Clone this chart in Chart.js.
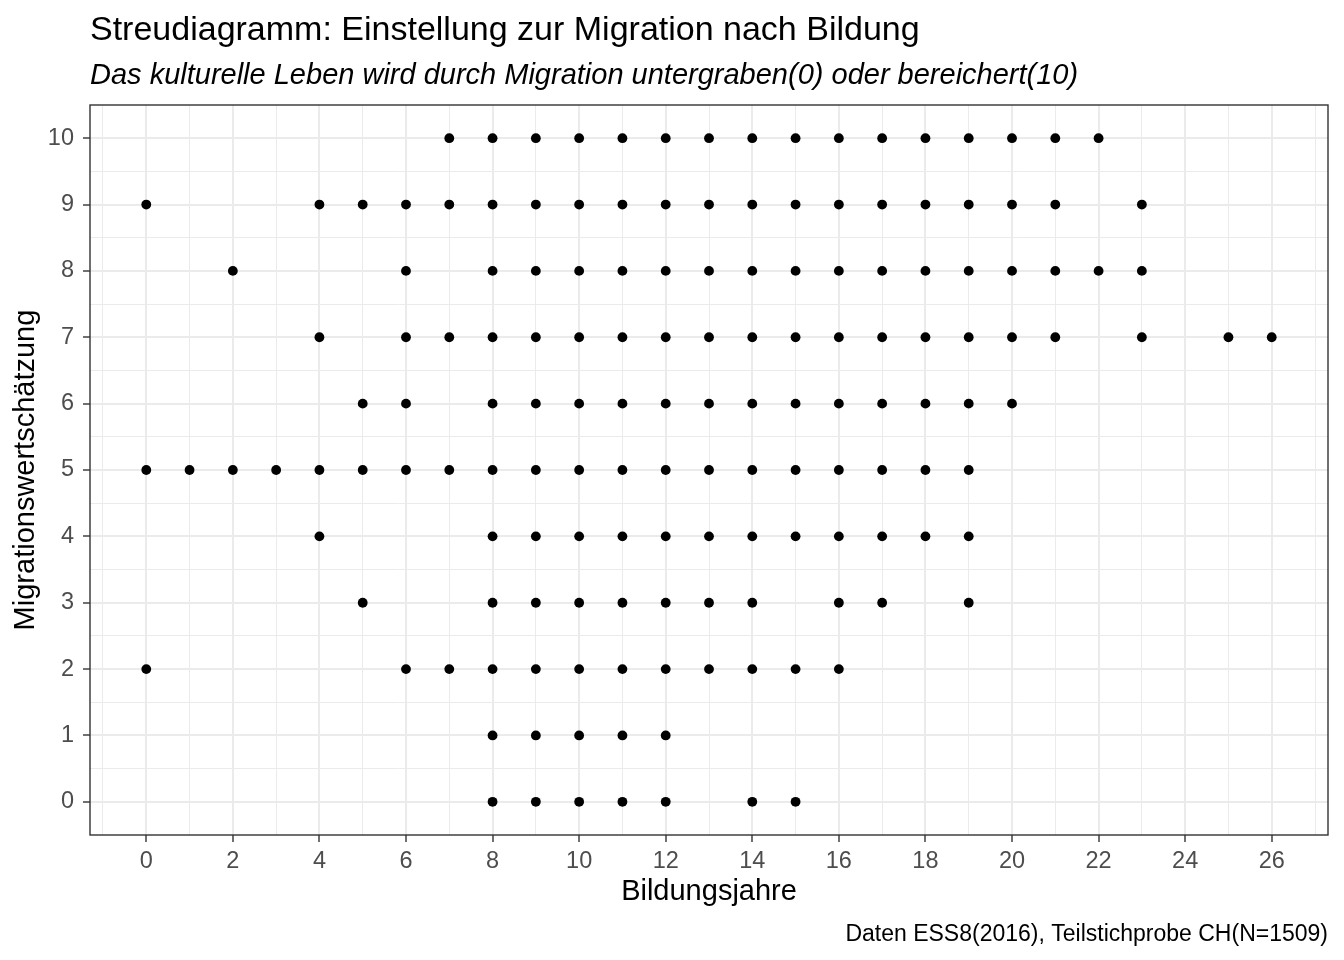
<!DOCTYPE html>
<html>
<head>
<meta charset="utf-8">
<script src="https://cdn.jsdelivr.net/npm/chart.js@4"></script>
<style>
  html, body { margin: 0; padding: 0; background: #ffffff; }
  #wrap { width: 1344px; height: 960px; }
</style>
</head>
<body>
<div id="wrap"><canvas id="c" width="1344" height="960"></canvas></div>
<script>
// ---- Data ----
const titleText = "Streudiagramm: Einstellung zur Migration nach Bildung";
const subtitleText = "Das kulturelle Leben wird durch Migration untergraben(0) oder bereichert(10)";
const captionText = "Daten ESS8(2016), Teilstichprobe CH(N=1509)";
const xAxisTitle = "Bildungsjahre";
const yAxisTitle = "Migrationswertschätzung";

// Migrationswertschätzung levels and the Bildungsjahre values observed at each level
const yLevels = [10, 9, 8, 7, 6, 5, 4, 3, 2, 1, 0];
const xAt10 = [7, 8, 9, 10, 11, 12, 13, 14, 15, 16, 17, 18, 19, 20, 21, 22];
const xAt9  = [0, 4, 5, 6, 7, 8, 9, 10, 11, 12, 13, 14, 15, 16, 17, 18, 19, 20, 21, 23];
const xAt8  = [2, 6, 8, 9, 10, 11, 12, 13, 14, 15, 16, 17, 18, 19, 20, 21, 22, 23];
const xAt7  = [4, 6, 7, 8, 9, 10, 11, 12, 13, 14, 15, 16, 17, 18, 19, 20, 21, 23, 25, 26];
const xAt6  = [5, 6, 8, 9, 10, 11, 12, 13, 14, 15, 16, 17, 18, 19, 20];
const xAt5  = [0, 1, 2, 3, 4, 5, 6, 7, 8, 9, 10, 11, 12, 13, 14, 15, 16, 17, 18, 19];
const xAt4  = [4, 8, 9, 10, 11, 12, 13, 14, 15, 16, 17, 18, 19];
const xAt3  = [5, 8, 9, 10, 11, 12, 13, 14, 16, 17, 19];
const xAt2  = [0, 6, 7, 8, 9, 10, 11, 12, 13, 14, 15, 16];
const xAt1  = [8, 9, 10, 11, 12];
const xAt0  = [8, 9, 10, 11, 12, 14, 15];
const xByLevel = [xAt10, xAt9, xAt8, xAt7, xAt6, xAt5, xAt4, xAt3, xAt2, xAt1, xAt0];

const xTicks = [0, 2, 4, 6, 8, 10, 12, 14, 16, 18, 20, 22, 24, 26];
const yTicks = [0, 1, 2, 3, 4, 5, 6, 7, 8, 9, 10];
const xMinorTicks = [-1, 1, 3, 5, 7, 9, 11, 13, 15, 17, 19, 21, 23, 25, 27];
const yMinorTicks = [0.5, 1.5, 2.5, 3.5, 4.5, 5.5, 6.5, 7.5, 8.5, 9.5];
const xLimits = [-1.3, 27.3];
const yLimits = [-0.5, 10.5];

// ---- Build points ----
const points = [];
yLevels.forEach((y, i) => {
  xByLevel[i].forEach(x => points.push({ x: x, y: y }));
});

const FONT = "'Liberation Sans', Arial, Helvetica, sans-serif";
const GRID = '#EBEBEB';
const DARK = '#333333';
const TICKTXT = '#4D4D4D';

function isMajorX(v) { return xTicks.indexOf(v) !== -1; }
function isMajorY(v) { return yTicks.indexOf(v) !== -1; }

const textPlugin = {
  id: 'textPlugin',
  afterDraw(chart) {
    const ctx = chart.ctx;
    const a = chart.chartArea;
    ctx.save();
    // panel border
    ctx.strokeStyle = DARK;
    ctx.lineWidth = 1.4;
    ctx.strokeRect(a.left, a.top, a.right - a.left, a.bottom - a.top);
    // title
    ctx.fillStyle = '#000000';
    ctx.textAlign = 'left';
    ctx.textBaseline = 'alphabetic';
    ctx.font = "34px " + FONT;
    ctx.fillText(titleText, a.left, 40);
    ctx.font = "italic 29px " + FONT;
    ctx.fillText(subtitleText, a.left, 83.5);
    // caption
    ctx.textAlign = 'right';
    ctx.font = "23px " + FONT;
    ctx.fillText(captionText, a.right, 941);
    ctx.restore();
  }
};

new Chart(document.getElementById('c'), {
  type: 'scatter',
  data: {
    datasets: [{
      data: points,
      backgroundColor: '#000000',
      borderWidth: 0,
      pointRadius: 4.9,
      pointHoverRadius: 4.9
    }]
  },
  plugins: [textPlugin],
  options: {
    responsive: false,
    animation: false,
    devicePixelRatio: 1,
    layout: { padding: { left: 0, right: 16, top: 105, bottom: 0 } },
    plugins: {
      legend: { display: false },
      tooltip: { enabled: false }
    },
    scales: {
      x: {
        type: 'linear',
        min: xLimits[0],
        max: xLimits[1],
        afterBuildTicks(scale) {
          scale.ticks = xTicks.concat(xMinorTicks).sort((p, q) => p - q).map(v => ({ value: v }));
        },
        afterFit(scale) { scale.height = 125; },
        border: { display: false },
        grid: {
          color: GRID,
          lineWidth: ctx => (ctx.tick && isMajorX(ctx.tick.value)) ? 2 : 1,
          drawTicks: true,
          tickLength: 7,
          tickWidth: 1.4,
          tickColor: ctx => (ctx.tick && isMajorX(ctx.tick.value)) ? DARK : 'rgba(0,0,0,0)'
        },
        ticks: {
          autoSkip: false,
          maxRotation: 0,
          padding: 5,
          color: TICKTXT,
          font: { family: FONT, size: 23.5 },
          callback: v => isMajorX(v) ? String(v) : ''
        },
        title: {
          display: true,
          text: xAxisTitle,
          color: '#000000',
          font: { family: FONT, size: 29 },
          padding: { top: 0, bottom: 51 }
        }
      },
      y: {
        type: 'linear',
        min: yLimits[0],
        max: yLimits[1],
        afterBuildTicks(scale) {
          scale.ticks = yTicks.concat(yMinorTicks).sort((p, q) => p - q).map(v => ({ value: v }));
        },
        afterFit(scale) { scale.width = 90; },
        border: { display: false },
        grid: {
          color: GRID,
          lineWidth: ctx => (ctx.tick && isMajorY(ctx.tick.value)) ? 2 : 1,
          drawTicks: true,
          tickLength: 7,
          tickWidth: 1.4,
          tickColor: ctx => (ctx.tick && isMajorY(ctx.tick.value)) ? DARK : 'rgba(0,0,0,0)'
        },
        ticks: {
          autoSkip: false,
          padding: 9,
          color: TICKTXT,
          font: { family: FONT, size: 23.5 },
          callback: v => isMajorY(v) ? String(v) : ''
        },
        title: {
          display: true,
          text: yAxisTitle,
          color: '#000000',
          font: { family: FONT, size: 29 },
          padding: { top: 9, bottom: 0 }
        }
      }
    }
  }
});
</script>
</body>
</html>
